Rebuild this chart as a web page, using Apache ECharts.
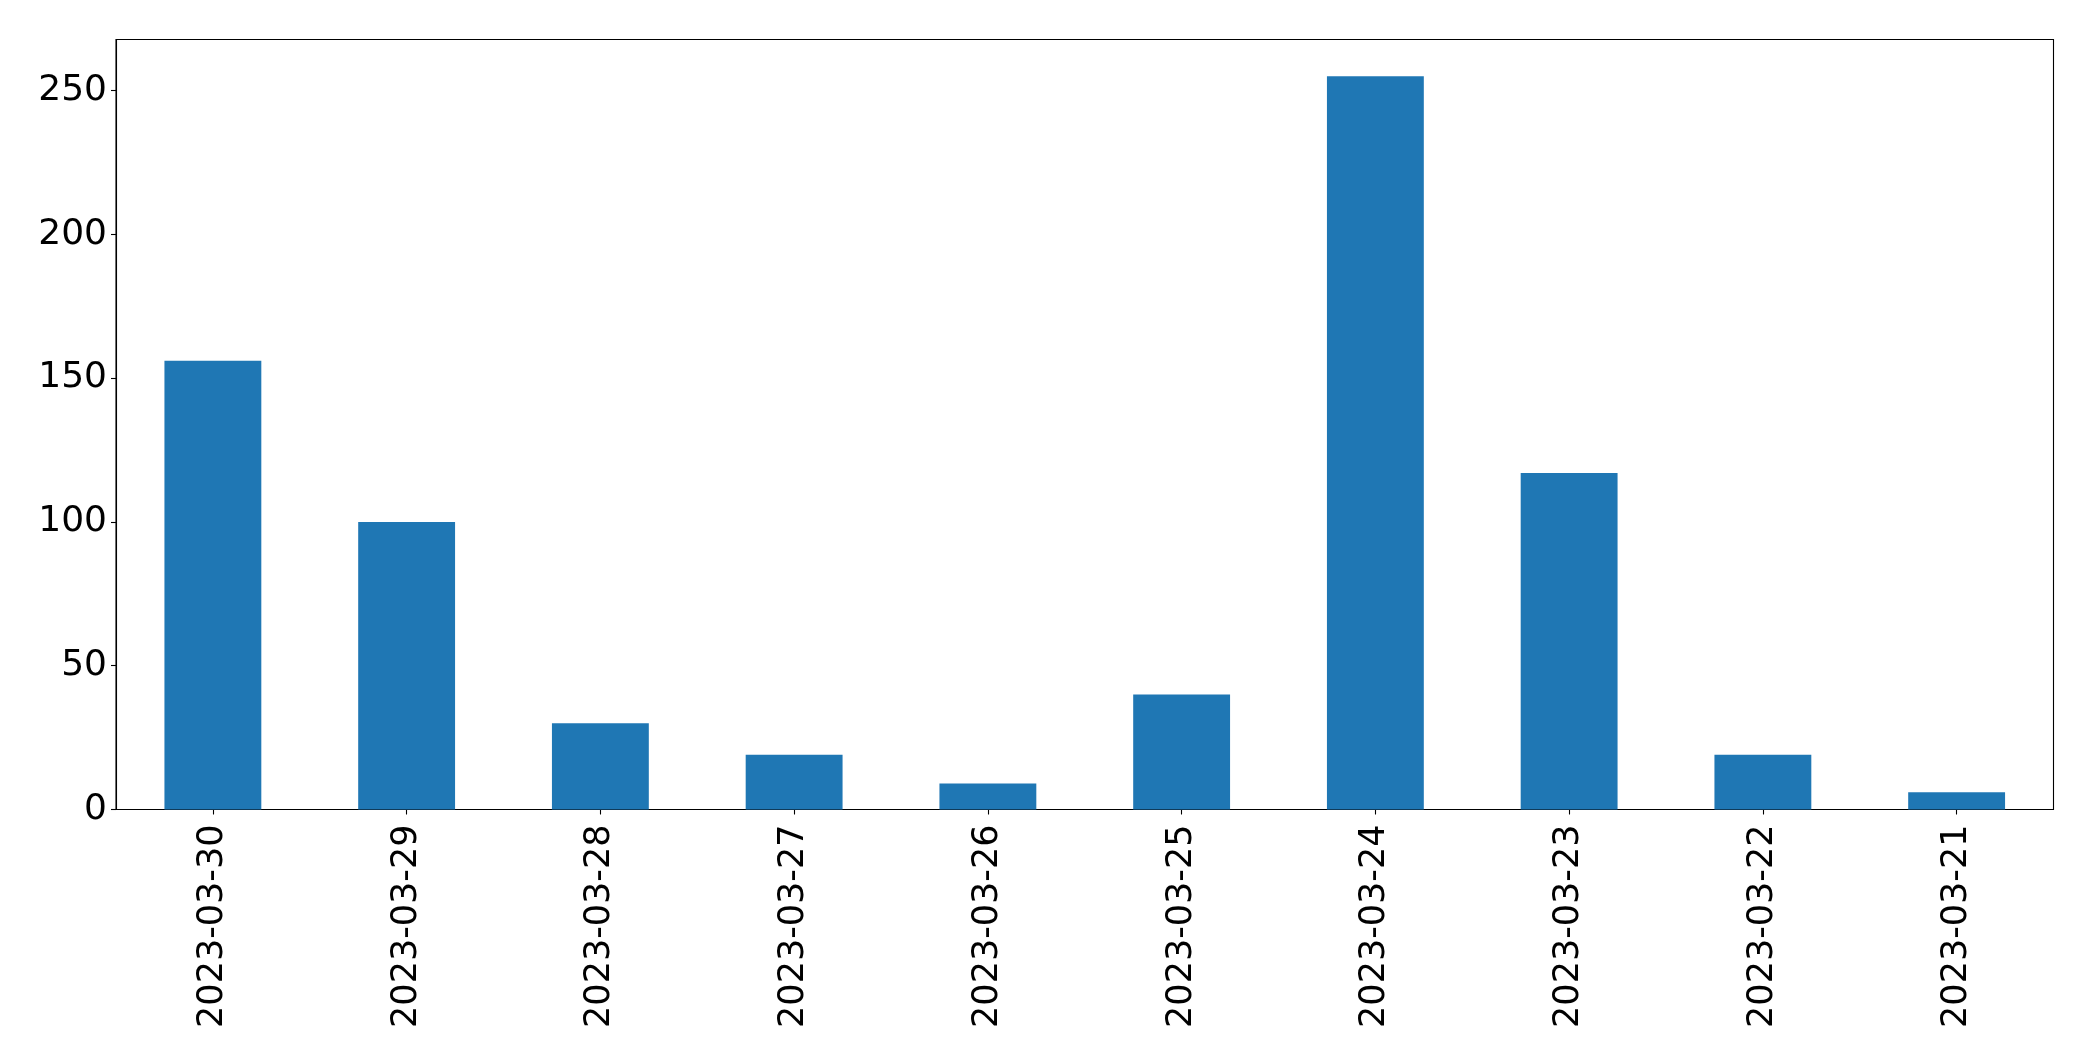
<!DOCTYPE html>
<html>
<head>
<meta charset="utf-8">
<script src="https://cdn.jsdelivr.net/npm/echarts@6/dist/echarts.min.js"></script>
<style>html,body{margin:0;padding:0;background:#fff}#c{width:2093px;height:1061px}</style>
</head>
<body>
<div id="c"></div>
<script>
const categories = ["2023-03-30","2023-03-29","2023-03-28","2023-03-27","2023-03-26","2023-03-25","2023-03-24","2023-03-23","2023-03-22","2023-03-21"];
const values = [156, 100, 30, 19, 9, 40, 255, 117, 19, 6];
const yTicks = [0, 50, 100, 150, 200, 250];

const chart = echarts.init(document.getElementById('c'), null, {renderer: 'canvas'});
const font = 'DejaVu Sans';
chart.setOption({
  animation: false,
  grid: {left: 116, right: 39.5, top: 39.5, bottom: 251.5, show: true, borderColor: '#000', borderWidth: 1.1, backgroundColor: 'transparent'},
  xAxis: {
    type: 'category',
    data: categories,
    boundaryGap: true,
    axisLine: {show: true, lineStyle: {color: '#000', width: 1.1}},
    axisTick: {show: true, alignWithLabel: true, length: 5, lineStyle: {color: '#000', width: 1.1}},
    axisLabel: {rotate: 90, margin: 15, fontFamily: font, fontSize: 35, color: '#000', interval: 0}
  },
  yAxis: {
    type: 'value',
    min: 0,
    max: 267.75,
    interval: 50,
    splitLine: {show: false},
    axisLine: {show: true, lineStyle: {color: '#000', width: 1.1}},
    axisTick: {show: true, length: 5, lineStyle: {color: '#000', width: 1.1}},
    axisLabel: {
      margin: 9, fontFamily: font, fontSize: 36, color: '#000',
      showMaxLabel: false,
      padding: [6, 0, 0, 0],
      formatter: v => yTicks.includes(v) ? String(v) : ''
    }
  },
  series: [{
    type: 'bar',
    data: values,
    barWidth: '50%',
    itemStyle: {color: '#1f77b4'}
  }]
});
</script>
</body>
</html>
